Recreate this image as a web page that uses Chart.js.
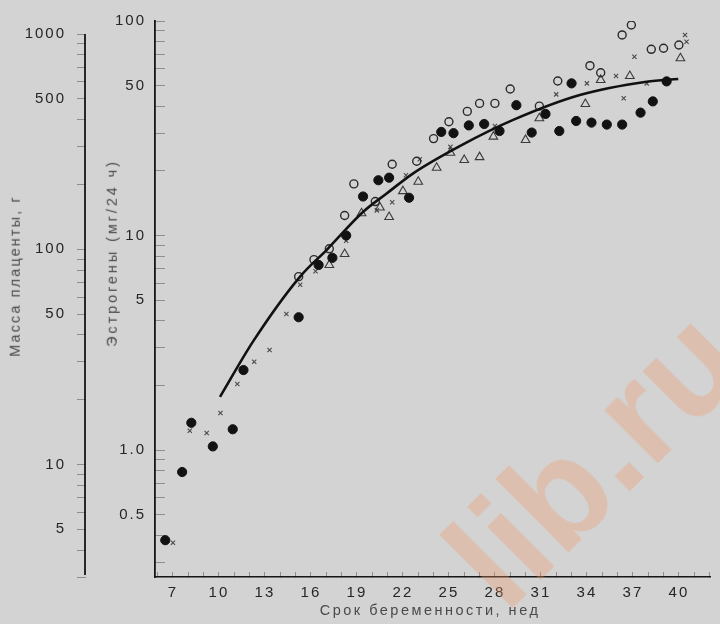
<!DOCTYPE html>
<html><head><meta charset="utf-8">
<script src="https://cdn.jsdelivr.net/npm/chart.js@4"></script>
<style>
html,body{margin:0;padding:0;background:#d3d3d3;}
#wrap{position:relative;width:720px;height:624px;overflow:hidden;background:#d3d3d3;}
canvas{position:absolute;left:0;top:0;}
.t{position:absolute;font-family:'Liberation Sans',Arial,sans-serif;font-size:14.5px;color:#4a4a4a;white-space:nowrap;line-height:1;}
#wm{position:absolute;left:594px;top:458px;transform:translate(-50%,-50%) rotate(-45deg);font-family:'Liberation Sans',Arial,sans-serif;font-weight:bold;font-size:142px;line-height:1;color:rgba(240,150,100,0.32);white-space:nowrap;pointer-events:none;}
</style></head><body>
<div id="wrap">
<canvas id="c" width="720" height="624"></canvas>
<div class="t" style="left:430px;top:610px;letter-spacing:2.5px;transform:translate(-50%,-50%);">Срок беременности, нед</div>
<div class="t" style="left:15px;top:276px;letter-spacing:2.1px;transform:translate(-50%,-50%) rotate(-90deg);">Масса плаценты, г</div>
<div class="t" style="left:112px;top:253px;letter-spacing:2.9px;transform:translate(-50%,-50%) rotate(-90deg);">Эстрогены (мг/24 ч)</div>
<div id="wm">lib.ru</div>
</div>
<script>
// ---- data ----
const filledWeeks  = [6.5,7.6,8.2,9.6,10.9,11.6,15.2,16.5,17.4,18.3,19.4,20.4,21.1,22.4,24.5,25.3,26.3,27.3,28.3,29.4,30.4,31.3,32.2,33.0,33.3,34.3,35.3,36.3,37.5,38.3,39.2];
const filledValues = [0.38,0.79,1.34,1.04,1.25,2.36,4.16,7.29,7.87,10.0,15.2,18.1,18.6,15.0,30.4,30.0,32.6,33.1,30.7,40.5,30.2,36.9,30.7,51.2,34.2,33.6,32.9,32.9,37.4,42.2,52.3];

const openWeeks  = [15.2,16.2,17.2,18.2,18.8,20.2,21.3,22.9,24.0,25.0,26.2,27.0,28.0,29.0,30.9,32.1,34.2,34.9,36.3,36.9,38.2,39.0,40.0];
const openValues = [6.43,7.72,8.67,12.4,17.4,14.4,21.5,22.2,28.3,33.9,37.9,41.3,41.3,48.2,40.1,52.5,61.9,57.4,86.1,95.8,73.8,74.6,77.3];

const triWeeks  = [17.2,18.2,19.3,20.5,21.1,22.0,23.0,24.2,25.1,26.0,27.0,27.9,30.0,30.9,33.9,34.9,36.8,40.1];
const triValues = [7.29,8.2,12.7,13.5,12.2,16.1,17.8,20.7,24.3,22.5,23.2,28.9,27.9,35.2,41.0,53.1,55.4,67.0];

const crossWeeks  = [7.0,8.1,9.2,10.1,11.2,12.3,13.3,14.4,15.3,16.3,18.3,20.3,21.3,22.2,23.1,25.1,28.0,32.0,34.0,35.9,36.4,37.1,37.9,40.4,40.5];
const crossValues = [0.37,1.23,1.20,1.49,2.03,2.58,2.93,4.31,5.90,6.81,9.46,13.1,14.3,19.1,22.7,25.9,32.4,45.5,51.2,55.4,43.6,68.2,51.2,86.1,80.1];

const curveWeeks  = [10.07,12.24,15.24,17.08,19.41,20.94,22.67,25.83,29.19,33.54,37.89,39.96];
const curveValues = [1.77,3.22,6.37,8.65,12.9,15.7,19.5,26.4,34.6,45.2,52.1,53.7];

const weekTicks  = [6,7,8,9,10,11,12,13,14,15,16,17,18,19,20,21,22,23,24,25,26,27,28,29,30,31,32,33,34,35,36,37,38,39,40,41,42];
const weekLabels = [7,10,13,16,19,22,25,28,31,34,37,40];

const estrogenTicks      = [0.3,0.4,0.5,0.6,0.7,0.8,0.9,1,2,3,4,5,6,7,8,9,10,20,30,40,50,60,70,80,90,100];
const estrogenLabelVals  = [0.5,1,5,10,50,100];
const estrogenLabelTexts = ['0.5','1.0','5','10','50','100'];

const placentaTicks      = [3,4,5,6,7,8,9,10,20,30,40,50,60,70,80,90,100,200,300,400,500,600,700,800,900,1000];
const placentaLabelVals  = [5,10,50,100,500,1000];
const placentaLabelTexts = ['5','10','50','100','500','1000'];

// ---- chart ----
const pts = (xs, ys) => xs.map((x, i) => ({x: x, y: ys[i]}));
const tickFont = {family: "'Liberation Sans', Arial, sans-serif", size: 15};
const TXT = '#262626';
const noPad = s => { s.paddingTop = 0; s.paddingBottom = 0; s.paddingLeft = 0; s.paddingRight = 0; };

const spacing = {
  id: 'spacing',
  beforeLayout(c) { c.ctx.letterSpacing = '2px'; },
  beforeDraw(c) { c.ctx.letterSpacing = '2px'; }
};
const placentaLine = {
  id: 'placentaLine',
  afterDraw(c) {
    const s = c.scales.yP, ctx = c.ctx;
    ctx.save();
    ctx.strokeStyle = '#151515';
    ctx.lineWidth = 1.8;
    ctx.beginPath();
    ctx.moveTo(s.right - 1, s.getPixelForValue(placentaTicks[placentaTicks.length - 1]));
    ctx.lineTo(s.right - 1, s.bottom - 2);
    ctx.stroke();
    ctx.restore();
  }
};

new Chart(document.getElementById('c'), {
  type: 'scatter',
  data: {
    datasets: [
      {label: 'curve', data: pts(curveWeeks, curveValues), showLine: true, borderColor: '#111', borderWidth: 2.6,
       pointRadius: 0, cubicInterpolationMode: 'monotone', fill: false},
      {label: 'filled', data: pts(filledWeeks, filledValues), pointStyle: 'circle', pointRadius: 4.6,
       backgroundColor: '#121212', borderColor: '#121212', borderWidth: 1},
      {label: 'open', data: pts(openWeeks, openValues), pointStyle: 'circle', pointRadius: 4,
       backgroundColor: 'rgba(0,0,0,0)', borderColor: '#2a2a2a', borderWidth: 1.4},
      {label: 'tri', data: pts(triWeeks, triValues), pointStyle: 'triangle', pointRadius: 5,
       backgroundColor: 'rgba(0,0,0,0)', borderColor: '#3a3a3a', borderWidth: 1.1},
      {label: 'cross', data: pts(crossWeeks, crossValues), pointStyle: 'crossRot', pointRadius: 3,
       backgroundColor: 'rgba(0,0,0,0)', borderColor: '#4a4a4a', borderWidth: 1.1}
    ]
  },
  options: {
    responsive: false,
    devicePixelRatio: 1,
    animation: false,
    layout: {padding: {top: 21, right: 10, left: 0, bottom: 0}},
    plugins: {legend: {display: false}, tooltip: {enabled: false}},
    scales: {
      x: {
        type: 'linear', position: 'bottom', min: 5.83, max: 42.03,
        border: {color: '#151515', width: 1.6},
        grid: {drawOnChartArea: false, drawTicks: true, tickLength: -5, color: '#8e8e8e'},
        ticks: {padding: 12, autoSkip: false, maxRotation: 0, font: tickFont, color: TXT,
                callback: v => weekLabels.includes(v) ? String(v) : ''},
        afterBuildTicks: s => { s.ticks = weekTicks.map(v => ({value: v})); },
        afterFit: s => { s.height = 47; noPad(s); }
      },
      y: {
        type: 'logarithmic', position: 'left', weight: 0, min: 0.256, max: 100,
        border: {color: '#151515', width: 1.8},
        grid: {drawOnChartArea: false, drawTicks: true, tickLength: -10, color: '#8e8e8e'},
        ticks: {padding: 19, autoSkip: false, font: tickFont, color: TXT,
                callback: v => { const i = estrogenLabelVals.indexOf(v); return i >= 0 ? estrogenLabelTexts[i] : ''; }},
        afterBuildTicks: s => { s.ticks = estrogenTicks.map(v => ({value: v})); },
        afterFit: s => { s.width = 69; noPad(s); }
      },
      yP: {
        type: 'logarithmic', position: 'left', weight: 1, min: 3, max: 1150,
        border: {display: false},
        grid: {drawOnChartArea: false, drawTicks: true, tickLength: 9, color: '#8e8e8e'},
        ticks: {padding: 11, autoSkip: false, font: tickFont, color: TXT,
                callback: v => { const i = placentaLabelVals.indexOf(v); return i >= 0 ? placentaLabelTexts[i] : ''; }},
        afterBuildTicks: s => { s.ticks = placentaTicks.map(v => ({value: v})); },
        afterFit: s => { s.width = 86; noPad(s); }
      }
    }
  },
  plugins: [spacing, placentaLine]
});
</script>
</body></html>
